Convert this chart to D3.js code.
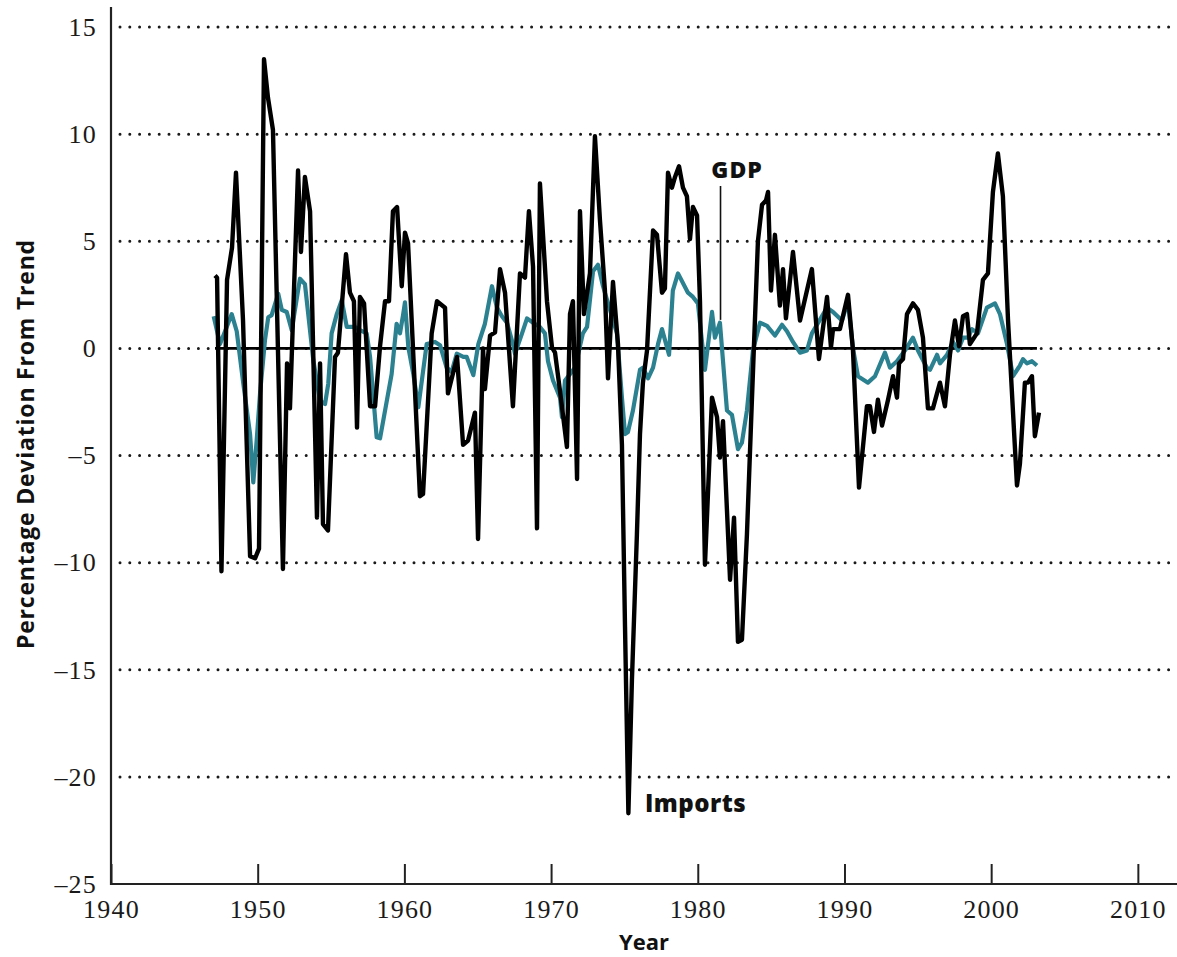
<!DOCTYPE html>
<html><head><meta charset="utf-8">
<script src="https://cdn.jsdelivr.net/npm/d3@7"></script>
<style>body{margin:0;background:#fff;} svg{display:block}</style>
</head><body><svg id="chart" width="1177" height="957"></svg>
<script>
// ---- Data ----
const importYears = [1947.09,1947.23,1947.53,1947.91,1948.25,1948.52,1949.00,1949.48,1949.82,1950.09,1950.43,1950.70,1951.04,1951.72,1952.00,1952.20,1952.75,1952.95,1953.22,1953.57,1954.04,1954.25,1954.45,1954.79,1955.27,1955.47,1956.02,1956.29,1956.56,1956.77,1956.97,1957.25,1957.66,1958.00,1958.34,1958.68,1958.95,1959.22,1959.50,1959.82,1960.04,1960.25,1961.06,1961.27,1961.86,1962.22,1962.77,1962.97,1963.59,1964.00,1964.34,1964.81,1965.02,1965.36,1965.49,1965.84,1966.18,1966.52,1966.86,1967.40,1967.88,1968.22,1968.49,1968.77,1969.04,1969.24,1969.72,1970.06,1970.27,1970.61,1971.08,1971.29,1971.49,1971.77,1971.97,1972.24,1972.65,1972.99,1973.33,1973.67,1973.88,1974.22,1974.56,1974.83,1975.04,1975.27,1975.51,1975.85,1976.06,1976.26,1976.54,1976.95,1977.22,1977.56,1977.76,1977.97,1978.24,1978.45,1978.72,1978.99,1979.26,1979.47,1979.67,1979.95,1980.15,1980.49,1980.97,1981.31,1981.51,1981.72,1982.20,1982.47,1982.74,1983.01,1983.35,1983.69,1984.10,1984.38,1984.65,1984.79,1984.99,1985.26,1985.60,1985.81,1986.01,1986.49,1986.97,1987.78,1988.26,1988.81,1989.08,1989.22,1989.69,1990.24,1990.58,1990.99,1991.53,1991.74,1992.01,1992.28,1992.56,1992.97,1993.31,1993.58,1993.72,1993.99,1994.26,1994.67,1995.01,1995.35,1995.69,1996.03,1996.51,1996.85,1997.19,1997.53,1997.81,1998.08,1998.35,1998.55,1999.03,1999.44,1999.78,2000.12,2000.46,2000.80,2001.15,2001.76,2001.96,2002.30,2002.51,2002.78,2002.98,2003.26];
const importValues = [3.4,3.3,-10.4,3.2,4.7,8.2,1.3,-9.7,-9.8,-9.35,13.5,11.7,10.2,-10.3,-0.7,-2.8,8.3,4.5,8.0,6.4,-7.9,-0.7,-8.2,-8.5,-0.4,-0.2,4.4,2.6,2.2,-3.7,2.4,2.1,-2.7,-2.7,0.1,2.2,2.2,6.4,6.6,2.9,5.4,4.9,-6.9,-6.8,0.7,2.2,1.9,-2.1,-0.4,-4.5,-4.3,-3.0,-8.9,0.0,-1.9,0.6,0.75,3.7,2.6,-2.7,3.5,3.3,6.4,3.8,-8.4,7.7,2.2,0.05,-0.2,-2.0,-4.6,1.6,2.2,-6.1,6.4,1.6,3.5,9.9,6.0,2.7,-1.4,3.1,0.2,-4.5,-13.0,-21.7,-15.5,-8.7,-4.0,-1.6,-0.1,5.5,5.3,2.6,2.8,8.2,7.5,8.0,8.5,7.5,7.1,5.1,6.6,6.2,2.2,-10.1,-2.3,-3.2,-5.1,-3.4,-10.8,-7.9,-13.7,-13.6,-8.7,-2.4,5.0,6.7,6.9,7.3,2.7,5.3,2.0,3.7,1.4,4.5,1.3,3.7,-0.5,2.4,0.05,0.9,0.9,2.5,-0.1,-6.5,-2.7,-2.7,-3.9,-2.4,-3.6,-2.4,-1.3,-2.3,-0.7,-0.5,1.6,2.1,1.8,0.5,-2.8,-2.8,-1.6,-2.7,-0.3,1.3,0.1,1.5,1.6,0.2,0.7,3.2,3.5,7.3,9.1,7.1,1.3,-6.4,-5.4,-1.6,-1.6,-1.3,-4.1,-3.0];

const gdpYears = [1947.00,1947.43,1947.89,1948.23,1948.57,1949.02,1949.48,1949.70,1949.93,1950.16,1950.50,1950.72,1950.95,1951.40,1951.64,1951.98,1952.32,1952.88,1953.22,1953.79,1954.25,1954.59,1954.81,1955.04,1955.39,1955.73,1956.07,1956.63,1956.97,1957.43,1957.66,1958.11,1958.34,1959.13,1959.47,1959.70,1959.92,1960.04,1960.27,1960.61,1960.95,1961.52,1962.09,1962.43,1962.88,1963.22,1963.57,1964.02,1964.25,1964.70,1965.04,1965.49,1965.97,1966.31,1966.65,1966.99,1967.40,1967.54,1968.02,1968.36,1968.77,1969.24,1969.58,1969.79,1970.13,1970.61,1970.74,1970.95,1971.63,1972.17,1972.45,1972.86,1973.20,1973.54,1974.49,1974.83,1975.04,1975.24,1975.58,1976.06,1976.26,1976.61,1976.95,1977.29,1977.56,1978.04,1978.30,1978.65,1979.33,1979.67,1980.01,1980.49,1980.97,1981.17,1981.51,1981.99,1982.33,1982.74,1983.01,1983.35,1983.76,1984.24,1984.72,1985.26,1985.74,1986.08,1986.49,1986.97,1987.44,1987.78,1988.81,1989.22,1989.83,1990.24,1990.58,1990.92,1991.60,1992.08,1992.76,1993.10,1993.58,1994.12,1994.67,1995.01,1995.62,1995.83,1996.31,1996.51,1996.99,1997.40,1997.74,1998.08,1998.42,1998.69,1999.10,1999.71,2000.26,2000.60,2001.08,2001.49,2001.96,2002.17,2002.44,2002.78,2003.12];
const gdpValues = [1.5,0.2,1.0,1.6,0.8,-1.65,-4.0,-6.25,-4.3,-2.1,0.4,1.45,1.55,2.55,1.8,1.7,0.85,3.25,3.0,-0.55,-2.45,-2.6,-1.65,0.7,1.6,2.25,1.0,1.0,0.85,0.7,-0.4,-4.15,-4.2,-1.2,1.15,0.7,1.6,2.15,0.05,-1.2,-2.75,0.2,0.3,0.15,-0.9,-1.1,-0.25,-0.4,-0.4,-1.25,0.2,1.15,2.9,1.9,1.5,1.2,0.2,-0.25,0.7,1.4,1.2,1.0,0.7,-0.6,-1.5,-2.3,-3.2,-1.5,-0.9,0.7,1.0,3.6,3.9,2.9,0.7,-2.3,-4.0,-3.9,-2.9,-1.0,-0.9,-1.4,-0.9,0.2,0.9,-0.3,2.7,3.5,2.6,2.4,2.1,-1.0,1.7,0.5,1.2,-2.9,-3.1,-4.7,-4.4,-2.9,-0.1,1.2,1.05,0.6,1.1,0.8,0.3,-0.2,-0.1,0.7,1.9,1.7,1.3,2.2,0.0,-1.3,-1.6,-1.3,-0.2,-0.9,-0.6,-0.1,0.5,-0.1,-0.9,-1.0,-0.3,-0.7,-0.3,0.3,-0.1,0.5,0.5,0.9,0.7,1.9,2.1,1.6,0.2,-1.3,-0.8,-0.5,-0.7,-0.6,-0.8];

const xTickValues = [1940,1950,1960,1970,1980,1990,2000,2010];
const yTickValues = [-25,-20,-15,-10,-5,0,5,10,15];
const xAxisTitle = "Year";
const yAxisTitle = "Percentage Deviation From Trend";
const gdpLabel = "GDP";
const importsLabel = "Imports";

// ---- Layout ----
const W = 1177, H = 957;
const svg = d3.select("#chart");
const x = d3.scaleLinear().domain([1940, 2012.6]).range([111, 1176]);
const y = d3.scaleLinear().domain([-25, 15]).range([884, 27]);

const tealColor = "#2b8190";
const serif = "'Liberation Serif', 'DejaVu Serif', serif";
const sans = "'Open Sans', 'Lato', sans-serif";

// gridlines (dotted)
svg.append("g").selectAll("line")
  .data(yTickValues.filter(d => d > -25))
  .join("line")
  .attr("x1", x.range()[0] + 9).attr("x2", W)
  .attr("y1", d => y(d)).attr("y2", d => y(d))
  .attr("stroke", "#1a1a1a").attr("stroke-width", 3)
  .attr("stroke-linecap", "round").attr("stroke-dasharray", "0 9.8");

// zero reference line over the data span
svg.append("line")
  .attr("x1", x(d3.min(importYears))).attr("x2", x(d3.max(gdpYears)))
  .attr("y1", y(0)).attr("y2", y(0))
  .attr("stroke", "#000").attr("stroke-width", 2.6);

const lineGen = (xs, vs) => d3.line()
  .x((d, i) => x(xs[i])).y((d, i) => y(vs[i]))(vs);

// GDP series
svg.append("path")
  .attr("d", lineGen(gdpYears, gdpValues))
  .attr("fill", "none").attr("stroke", tealColor)
  .attr("stroke-width", 4.2).attr("stroke-linejoin", "round");

// Imports series
svg.append("path")
  .attr("d", lineGen(importYears, importValues))
  .attr("fill", "none").attr("stroke", "#000")
  .attr("stroke-width", 4.4).attr("stroke-linejoin", "round");

// x axis
const xAxis = d3.axisBottom(x).tickValues(xTickValues)
  .tickSizeInner(-20).tickSizeOuter(0).tickPadding(16)
  .tickFormat(d3.format("d"));
const gx = svg.append("g").attr("transform", `translate(0,${y(-25)})`).call(xAxis);
gx.select(".domain").remove();
gx.selectAll(".tick line").attr("stroke", "#222").attr("stroke-width", 2);
gx.selectAll(".tick text").attr("font-family", serif).attr("font-size", 26)
  .attr("fill", "#1a1a1a").attr("letter-spacing", 1.2);
svg.append("line")
  .attr("x1", x(1940)).attr("x2", W)
  .attr("y1", y(-25)).attr("y2", y(-25))
  .attr("stroke", "#222").attr("stroke-width", 2.2);

// y axis
const yAxis = d3.axisLeft(y).tickValues(yTickValues).tickSize(0).tickPadding(14)
  .tickFormat(d => d < 0 ? "\u2013" + Math.abs(d) : String(d));
const gy = svg.append("g").attr("transform", `translate(${x(1940)},0)`).call(yAxis);
gy.select(".domain").remove();
gy.selectAll(".tick text").attr("font-family", serif).attr("font-size", 26)
  .attr("fill", "#1a1a1a").attr("letter-spacing", 1.2);
svg.append("line")
  .attr("x1", x(1940)).attr("x2", x(1940))
  .attr("y1", y(15) - 20).attr("y2", y(-25) + 1)
  .attr("stroke", "#222").attr("stroke-width", 2.2);

// axis titles
svg.append("text")
  .attr("x", (x(1940) + W) / 2).attr("y", 950)
  .attr("text-anchor", "middle")
  .attr("font-family", sans).attr("font-weight", 700).attr("font-size", 22)
  .attr("fill", "#111").text(xAxisTitle);
svg.append("text")
  .attr("transform", `translate(34,${(y(-5) + y(-10)) / 2 - 65}) rotate(-90)`)
  .attr("text-anchor", "middle")
  .attr("font-family", sans).attr("font-weight", 700).attr("font-size", 23)
  .attr("letter-spacing", 0.8)
  .attr("fill", "#111").text(yAxisTitle);

// series annotations
svg.append("line")
  .attr("x1", x(1981.55)).attr("x2", x(1981.55))
  .attr("y1", y(7.58)).attr("y2", y(1.33))
  .attr("stroke", "#111").attr("stroke-width", 1.6);
svg.append("text")
  .attr("x", x(1982.68)).attr("y", y(7.95))
  .attr("text-anchor", "middle")
  .attr("font-family", sans).attr("font-weight", 800).attr("font-size", 23)
  .attr("letter-spacing", 1)
  .attr("fill", "#111").text(gdpLabel);
svg.append("text")
  .attr("x", x(1976.4)).attr("y", y(-21.64))
  .attr("text-anchor", "start")
  .attr("font-family", sans).attr("font-weight", 800).attr("font-size", 24)
  .attr("letter-spacing", 0.5)
  .attr("fill", "#111").text(importsLabel);
</script>
</body></html>
